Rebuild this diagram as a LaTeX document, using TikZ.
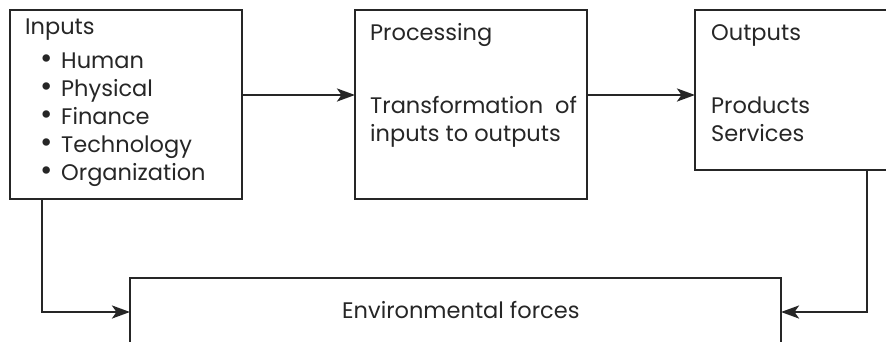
\documentclass[tikz,border=0pt]{standalone}
\usepackage{fontspec}
\setmainfont{Poppins}
\usetikzlibrary{arrows.meta}
\begin{document}
\begin{tikzpicture}[x=1pt,y=-1pt,
  box/.style={draw=black!85,line width=2.6pt},
  txt/.style={anchor=base west,inner sep=0pt,font=\fontsize{22.5}{27}\selectfont,text=black!85},
  bul/.style={anchor=base,inner sep=0pt,font=\fontsize{30}{30}\selectfont,text=black!85},
  conn/.style={draw=black!85,line width=2.6pt,-{Stealth[length=18pt,width=13pt,inset=4.5pt]}}]
\useasboundingbox (0,0) rectangle (886,341);
\clip (0,0) rectangle (886,341);
% boxes
\draw[box] (10,10) rectangle (242,199);
\coordinate (inR) at (242,95);
\coordinate (inB) at (42,199);
\draw[box] (355,10) rectangle (587,199);
\coordinate (prL) at (355,95);
\coordinate (prR) at (587,95);
\draw[box] (900,10) -- (695,10) -- (695,170) -- (900,170);
\coordinate (ouL) at (695,95);
\coordinate (ouB) at (867,170);
\draw[box] (130,360) -- (130,278) -- (781,278) -- (781,360);
\coordinate (enL) at (130,312);
\coordinate (enR) at (781,312);
% texts
\node[txt] (tin) at (25,34) {Inputs};
\node[bul] (d1) at (47,68) {\textbullet};
\node[bul] (d2) at (47,96) {\textbullet};
\node[bul] (d3) at (47,124) {\textbullet};
\node[bul] (d4) at (47,152) {\textbullet};
\node[bul] (d5) at (47,180) {\textbullet};
\node[txt] (b1) at (61,68) {Human};
\node[txt] (b2) at (61,96) {Physical};
\node[txt] (b3) at (61,124) {Finance};
\node[txt] (b4) at (61,152) {Technology};
\node[txt] (b5) at (61,180) {Organization};
\node[txt] (tpr) at (370,40) {Processing};
\node[txt] (tp1) at (370,113) {Transformation\ \ of};
\node[txt] (tp2) at (370,141) {inputs to outputs};
\node[txt] (tou) at (711,40) {Outputs};
\node[txt] (to1) at (711,113) {Products};
\node[txt] (to2) at (711,141) {Services};
\node[txt] (ten) at (342,318) {Environmental forces};
% connectors
\draw[conn] (inR) -- (prL);
\draw[conn] (prR) -- (ouL);
\draw[conn] (inB) |- (enL);
\draw[conn] (ouB) |- (enR);
\end{tikzpicture}
\end{document}
